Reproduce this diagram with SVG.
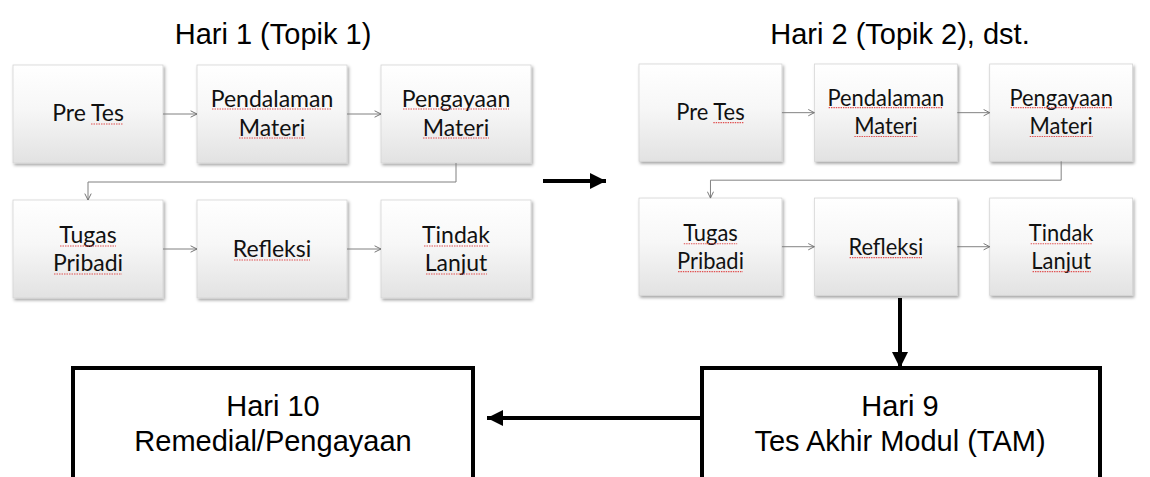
<svg xmlns="http://www.w3.org/2000/svg" width="1150" height="477" viewBox="0 0 1150 477">
<defs>
<linearGradient id="boxg" x1="0" y1="0" x2="0" y2="1">
<stop offset="0" stop-color="#ffffff"/>
<stop offset="0.45" stop-color="#f7f7f7"/>
<stop offset="1" stop-color="#e2e2e2"/>
</linearGradient>
<filter id="sh" x="-10%" y="-10%" width="125%" height="125%">
<feDropShadow dx="1.5" dy="2" stdDeviation="1.5" flood-color="#000" flood-opacity="0.35"/>
</filter>
<marker id="sm" viewBox="0 0 10 10" refX="9" refY="5" markerWidth="8" markerHeight="8" markerUnits="userSpaceOnUse" orient="auto">
<path d="M1,1 L9,5 L1,9" fill="none" stroke="#707070" stroke-width="1.2"/>
</marker>
<marker id="bm" viewBox="0 0 16 16" refX="16" refY="8" markerWidth="16" markerHeight="16" markerUnits="userSpaceOnUse" orient="auto">
<path d="M0,0 L16,8 L0,16 Z" fill="#000"/>
</marker>
</defs>
<style>
.box{fill:url(#boxg);stroke:#d4d4d4;stroke-width:0.8;filter:url(#sh)}
.bt{font-family:Lato,"Open Sans",sans-serif;font-size:23px;fill:#111;text-anchor:middle}
.sq{stroke:#e05050;stroke-width:1.2;stroke-dasharray:1.5 1}
.sc{fill:none;stroke:#808080;stroke-width:1}
.ttl{font-family:"Liberation Sans",Arial,sans-serif;font-size:29px;fill:#000;text-anchor:middle}
.big{fill:#fff;stroke:#000;stroke-width:4}
.bc{fill:none;stroke:#000;stroke-width:4}
.lt{font-family:"Liberation Sans",Arial,sans-serif;font-size:29px;fill:#000;text-anchor:middle}
</style>
<rect width="1150" height="477" fill="#fff"/>

<text class="ttl" x="273" y="44">Hari 1 (Topik 1)</text>
<text class="ttl" x="900" y="44">Hari 2 (Topik 2), dst.</text>

<g id="day1">
<g id="d1-pretes"><rect class="box" x="13" y="65" width="150" height="98"/><text class="bt" x="88" y="121">Pre Tes</text><line class="sq" x1="91" y1="124" x2="123" y2="124"/></g>
<g id="d1-pendalaman"><rect class="box" x="197" y="65" width="150" height="98"/><text class="bt" x="272" y="107">Pendalaman</text><text class="bt" x="272" y="136">Materi</text><line class="sq" x1="212" y1="109" x2="331" y2="109"/><line class="sq" x1="239" y1="138" x2="305" y2="138"/></g>
<g id="d1-pengayaan"><rect class="box" x="381" y="65" width="150" height="98"/><text class="bt" x="456" y="107">Pengayaan</text><text class="bt" x="456" y="136">Materi</text><line class="sq" x1="403" y1="109" x2="509" y2="109"/><line class="sq" x1="423" y1="138" x2="489" y2="138"/></g>
<g id="d1-tugas"><rect class="box" x="13" y="200" width="150" height="98"/><text class="bt" x="88" y="243">Tugas</text><text class="bt" x="88" y="271">Pribadi</text><line class="sq" x1="60" y1="246" x2="116" y2="246"/><line class="sq" x1="54" y1="274" x2="122" y2="274"/></g>
<g id="d1-refleksi"><rect class="box" x="197" y="200" width="150" height="98"/><text class="bt" x="272" y="257">Refleksi</text><line class="sq" x1="234" y1="260" x2="310" y2="260"/></g>
<g id="d1-tindak"><rect class="box" x="381" y="200" width="150" height="98"/><text class="bt" x="456" y="243">Tindak</text><text class="bt" x="456" y="271">Lanjut</text><line class="sq" x1="424" y1="246" x2="489" y2="246"/><line class="sq" x1="426" y1="274" x2="487" y2="274"/></g>
<g id="d1-connectors">
<line class="sc" x1="163" y1="114" x2="197" y2="114" marker-end="url(#sm)"/>
<line class="sc" x1="347" y1="114" x2="381" y2="114" marker-end="url(#sm)"/>
<polyline class="sc" points="456,163 456,182 88,182 88,200" marker-end="url(#sm)"/>
<line class="sc" x1="163" y1="249" x2="197" y2="249" marker-end="url(#sm)"/>
<line class="sc" x1="347" y1="249" x2="381" y2="249" marker-end="url(#sm)"/>
</g>
</g>

<g id="day2" transform="translate(639,64) scale(0.953,0.993) translate(-13,-65)">
<g id="d2-pretes"><rect class="box" x="13" y="65" width="150" height="98"/><text class="bt" x="88" y="121">Pre Tes</text><line class="sq" x1="91" y1="124" x2="123" y2="124"/></g>
<g id="d2-pendalaman"><rect class="box" x="197" y="65" width="150" height="98"/><text class="bt" x="272" y="107">Pendalaman</text><text class="bt" x="272" y="136">Materi</text><line class="sq" x1="212" y1="109" x2="331" y2="109"/><line class="sq" x1="239" y1="138" x2="305" y2="138"/></g>
<g id="d2-pengayaan"><rect class="box" x="381" y="65" width="150" height="98"/><text class="bt" x="456" y="107">Pengayaan</text><text class="bt" x="456" y="136">Materi</text><line class="sq" x1="403" y1="109" x2="509" y2="109"/><line class="sq" x1="423" y1="138" x2="489" y2="138"/></g>
<g id="d2-tugas"><rect class="box" x="13" y="200" width="150" height="98"/><text class="bt" x="88" y="243">Tugas</text><text class="bt" x="88" y="271">Pribadi</text><line class="sq" x1="60" y1="246" x2="116" y2="246"/><line class="sq" x1="54" y1="274" x2="122" y2="274"/></g>
<g id="d2-refleksi"><rect class="box" x="197" y="200" width="150" height="98"/><text class="bt" x="272" y="257">Refleksi</text><line class="sq" x1="234" y1="260" x2="310" y2="260"/></g>
<g id="d2-tindak"><rect class="box" x="381" y="200" width="150" height="98"/><text class="bt" x="456" y="243">Tindak</text><text class="bt" x="456" y="271">Lanjut</text><line class="sq" x1="424" y1="246" x2="489" y2="246"/><line class="sq" x1="426" y1="274" x2="487" y2="274"/></g>
<g id="d2-connectors">
<line class="sc" x1="163" y1="114" x2="197" y2="114" marker-end="url(#sm)"/>
<line class="sc" x1="347" y1="114" x2="381" y2="114" marker-end="url(#sm)"/>
<polyline class="sc" points="456,163 456,182 88,182 88,200" marker-end="url(#sm)"/>
<line class="sc" x1="163" y1="249" x2="197" y2="249" marker-end="url(#sm)"/>
<line class="sc" x1="347" y1="249" x2="381" y2="249" marker-end="url(#sm)"/>
</g>
</g>

<g id="hari10"><rect class="big" x="73" y="368" width="400" height="140"/><text class="lt" x="273" y="416">Hari 10</text><text class="lt" x="273" y="451">Remedial/Pengayaan</text></g>
<g id="hari9"><rect class="big" x="702" y="368" width="398" height="140"/><text class="lt" x="900" y="416">Hari 9</text><text class="lt" x="900" y="451">Tes Akhir Modul (TAM)</text></g>

<g id="connectors">
<line class="bc" x1="543" y1="181" x2="606" y2="181" marker-end="url(#bm)"/>
<line class="bc" x1="900" y1="298" x2="900" y2="368" marker-end="url(#bm)"/>
<line class="bc" x1="702" y1="418" x2="487" y2="418" marker-end="url(#bm)"/>
</g>
</svg>
